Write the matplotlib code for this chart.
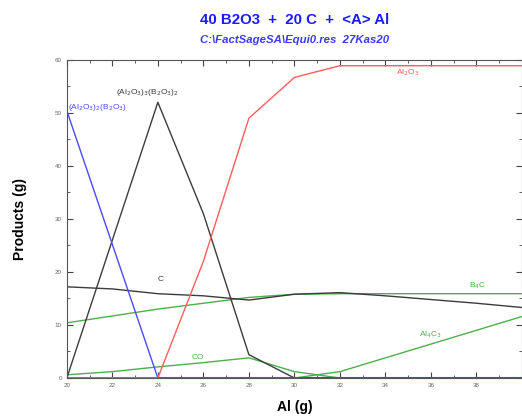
import matplotlib
matplotlib.use("Agg")
import matplotlib.pyplot as plt
from matplotlib.ticker import MultipleLocator

plt.rcParams['font.family'] = ['Liberation Sans', 'DejaVu Sans']

# data (Al in g, products in g)
al_x = [20, 22, 24, 26, 28, 30, 32, 34, 36, 38, 40]
al2o3 = [0, 0, 0, 22, 49, 56.7, 58.9, 58.9, 58.9, 58.9, 58.9]
al2o3_2_b2o3 = [50.4, 25.2, 0, 0, 0, 0, 0, 0, 0, 0, 0]
al2o3_3_b2o3_2 = [0, 26, 52, 31, 4.4, 0, 0, 0, 0, 0, 0]
carbon = [17.2, 16.8, 15.9, 15.5, 14.7, 15.8, 16.1, 15.5, 14.8, 14.1, 13.3]
b4c = [10.4, 11.7, 13.0, 14.1, 15.2, 15.8, 15.9, 15.9, 15.9, 15.9, 15.9]
co = [0.6, 1.2, 2.1, 2.9, 3.8, 1.2, 0, 0, 0, 0, 0]
al4c3 = [0, 0, 0, 0, 0, 0, 1.2, 3.8, 6.4, 9.0, 11.6]
zero_line = [0] * len(al_x)
x_ticks = [20, 22, 24, 26, 28, 30, 32, 34, 36, 38]

red = "#ff5c5c"
blue = "#4a4aff"
grey = "#3c3c3c"
green = "#4cb04c"

fig = plt.figure(figsize=(5.22, 4.18), dpi=100)
ax = fig.add_axes([0.128, 0.0957, 0.872, 0.761])

ax.plot(al_x, zero_line, color="#1a1aa0", lw=2.2, zorder=1)
ax.plot(al_x, b4c, color=green, lw=1)
ax.plot(al_x, co, color=green, lw=1)
ax.plot(al_x, al4c3, color=green, lw=1)
ax.plot(al_x, carbon, color=grey, lw=1)
ax.plot(al_x, al2o3_3_b2o3_2, color=grey, lw=1)
ax.plot(al_x, al2o3_2_b2o3, color=blue, lw=1)
ax.plot(al_x, al2o3, color=red, lw=1)

# species labels
ax.text(20.05, 51.1, r"(Al$_2$O$_3$)$_2$(B$_2$O$_3$)", color=blue, fontsize=6, ha="left", va="center")
ax.text(23.54, 53.8, r"(Al$_2$O$_3$)$_3$(B$_2$O$_3$)$_2$", color=grey, fontsize=6, ha="center", va="center")
ax.text(35.0, 57.6, r"Al$_2$O$_3$", color=red, fontsize=6, ha="center", va="center")
ax.text(24.12, 18.6, "C", color=grey, fontsize=6, ha="center", va="center")
ax.text(38.07, 17.4, r"B$_4$C", color=green, fontsize=6, ha="center", va="center")
ax.text(35.96, 8.1, r"Al$_4$C$_3$", color=green, fontsize=6, ha="center", va="center")
ax.text(25.76, 3.8, "CO", color=green, fontsize=6, ha="center", va="center")

ax.set_xlim(20, 40)
ax.set_ylim(0, 60)
ax.set_xticks(x_ticks)
ax.xaxis.set_minor_locator(MultipleLocator(1))
ax.yaxis.set_major_locator(MultipleLocator(10))
ax.yaxis.set_minor_locator(MultipleLocator(5))
ax.tick_params(which="both", direction="in", top=True, right=True,
               labelsize=4.5, labelcolor="#666666", color="#444444")
ax.tick_params(which="major", length=4)
ax.tick_params(which="minor", length=2)
for s in ax.spines.values():
    s.set_color("#555555")
    s.set_linewidth(0.8)

ax.set_xlabel("Al (g)", fontsize=10, fontweight="bold", labelpad=9)
ax.set_ylabel("Products (g)", fontsize=10, fontweight="bold", labelpad=20)

fig.text(0.565, 0.952, "40 B2O3  +  20 C  +  <A> Al", color="#1a1aff",
         fontsize=10.8, fontweight="bold", ha="center", va="center")
fig.text(0.565, 0.904, r"C:\FactSageSA\Equi0.res  27Kas20", color="#3a3aff",
         fontsize=8.2, fontweight="bold", style="italic", ha="center", va="center")

fig.savefig("out.png", dpi=100)
